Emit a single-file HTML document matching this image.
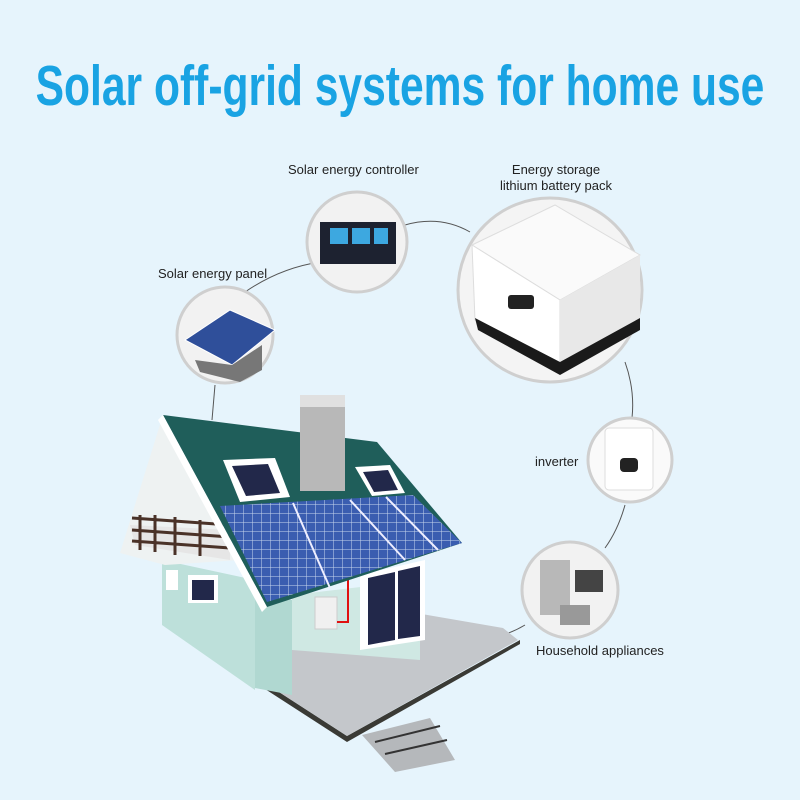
<!DOCTYPE html>
<html><head><meta charset="utf-8"><style>
html,body{margin:0;padding:0;background:#e6f4fc;}
#c{position:relative;width:800px;height:800px;overflow:hidden;font-family:"Liberation Sans",sans-serif;}
.t{position:absolute;left:-100px;top:53px;width:1000px;text-align:center;color:#19a3e3;font-weight:bold;font-size:57px;font-family:"Liberation Sans",sans-serif;transform:scaleX(0.747);transform-origin:center;white-space:nowrap}
.l{position:absolute;font-size:13px;color:#222;white-space:nowrap}
</style></head><body><div id="c">
<div class="t">Solar off-grid systems for home use</div>
<div class="l" style="left:288px;top:162px">Solar energy controller</div>
<div class="l" style="left:500px;top:162px;text-align:center;line-height:16px">Energy storage<br>lithium battery pack</div>
<div class="l" style="left:158px;top:266px">Solar energy panel</div>
<div class="l" style="left:535px;top:454px">inverter</div>
<div class="l" style="left:536px;top:643px">Household appliances</div>
<svg width="800" height="800" style="position:absolute;left:0;top:0">
<defs>
<pattern id="g" width="9" height="9" patternUnits="userSpaceOnUse"><rect width="9" height="9" fill="#3a5db0"/><path d="M0 0H9M0 0V9" stroke="#c8d6ee" stroke-width="1"/></pattern>
</defs>
<g fill="none" stroke="#555" stroke-width="1">
<path d="M245 292 Q280 268 320 262"/>
<path d="M405 225 Q440 215 470 232"/>
<path d="M625 362 Q635 390 632 418"/>
<path d="M625 505 Q618 530 605 548"/>
<path d="M525 625 Q500 640 470 640"/>
<path d="M215 385 L212 420"/>
</g>
<circle cx="357" cy="242" r="50" fill="#f2f2f2" stroke="#cfcfcf" stroke-width="3"/>
<rect x="320" y="222" width="76" height="42" fill="#1d2230"/><rect x="330" y="228" width="18" height="16" fill="#3da8e0"/><rect x="352" y="228" width="18" height="16" fill="#3da8e0"/><rect x="374" y="228" width="14" height="16" fill="#3da8e0"/>
<circle cx="550" cy="290" r="92" fill="#f4f4f4" stroke="#cfcfcf" stroke-width="3"/>
<polygon points="472,245 555,205 640,255 560,300" fill="#fafafa" stroke="#ddd"/>
<polygon points="472,245 560,300 560,365 475,320" fill="#fff" stroke="#ddd"/>
<polygon points="560,300 640,255 640,318 560,365" fill="#e8e8e8"/>
<polygon points="475,318 560,362 640,318 640,330 560,375 478,330" fill="#1a1a1a"/>
<rect x="508" y="295" width="26" height="14" rx="3" fill="#222"/>
<circle cx="225" cy="335" r="48" fill="#f2f2f2" stroke="#cfcfcf" stroke-width="3"/>
<polygon points="185,340 230,310 275,330 232,365" fill="#2f4f9a" stroke="#fff"/>
<polygon points="195,360 232,365 262,345 262,370 240,382 200,372" fill="#777"/>
<circle cx="630" cy="460" r="42" fill="#fafafa" stroke="#cfcfcf" stroke-width="3"/>
<rect x="605" y="428" width="48" height="62" rx="4" fill="#fff" stroke="#ddd"/><rect x="620" y="458" width="18" height="14" rx="4" fill="#222"/>
<circle cx="570" cy="590" r="48" fill="#f2f2f2" stroke="#cfcfcf" stroke-width="3"/>
<rect x="540" y="560" width="30" height="55" fill="#b8b8b8"/><rect x="575" y="570" width="28" height="22" fill="#444"/><rect x="560" y="605" width="30" height="20" fill="#999"/>
<polygon points="163,623 347,742 520,644 520,640 347,736 163,617" fill="#3a3a35"/>
<polygon points="163,617 347,736 518,640 503,628 410,612 300,640 230,620" fill="#c4c7cb"/>
<polygon points="362,735 430,718 455,760 395,772" fill="#b5b8bb"/><path d="M375 742L440 726M385 754L447 740" stroke="#333" stroke-width="2"/>
<polygon points="162,560 255,580 255,690 162,625" fill="#bde0da"/>
<polygon points="292,595 420,580 420,660 292,650" fill="#cfe8e3"/>
<polygon points="255,595 292,600 292,695 255,688" fill="#b0d8d1"/>
<polygon points="360,575 425,560 425,640 360,650" fill="#fff"/><polygon points="368,578 395,572 395,640 368,645" fill="#22284a"/><polygon points="398,571 420,566 420,636 398,639" fill="#22284a"/>
<rect x="315" y="597" width="22" height="32" fill="#f0f0f0" stroke="#ccc"/>
<path d="M337 622H348V570" stroke="#e01010" stroke-width="2" fill="none"/><circle cx="348" cy="570" r="3" fill="#e01010"/>
<rect x="188" y="575" width="30" height="28" fill="#fff"/><rect x="192" y="580" width="22" height="20" fill="#22284a"/>
<rect x="166" y="570" width="12" height="20" fill="#fff"/>
<polygon points="163,415 120,553 165,565 240,560" fill="#eef2f2"/>
<polygon points="130,525 230,530 230,560 135,545" fill="#e6e6e6"/>
<path d="M132 518L230 525M132 530L230 537M132 541L230 548M140 515V550M155 515V552M175 517V555M200 520V556" stroke="#4a3228" stroke-width="3"/>
<polygon points="163,415 377,442 462,543 267,607" fill="#1f5e5a"/>
<polygon points="163,415 267,607 262,612 158,420" fill="#fff"/>
<polygon points="223,460 275,458 290,497 240,502" fill="#fff"/><polygon points="232,466 268,464 280,493 246,496" fill="#22284a"/>
<polygon points="355,467 390,465 405,493 372,496" fill="#fff"/><polygon points="363,472 388,470 398,490 374,492" fill="#22284a"/>
<rect x="300" y="395" width="45" height="96" fill="#b8b8b8"/><rect x="300" y="395" width="45" height="12" fill="#e0e0e0"/>
<polygon points="220,506 413,495 462,543 267,602" fill="url(#g)"/>
<path d="M293 503L330 588M350 500L405 560M386 497L438 550" stroke="#eef" stroke-width="2"/>
</svg>
</div></body></html>
